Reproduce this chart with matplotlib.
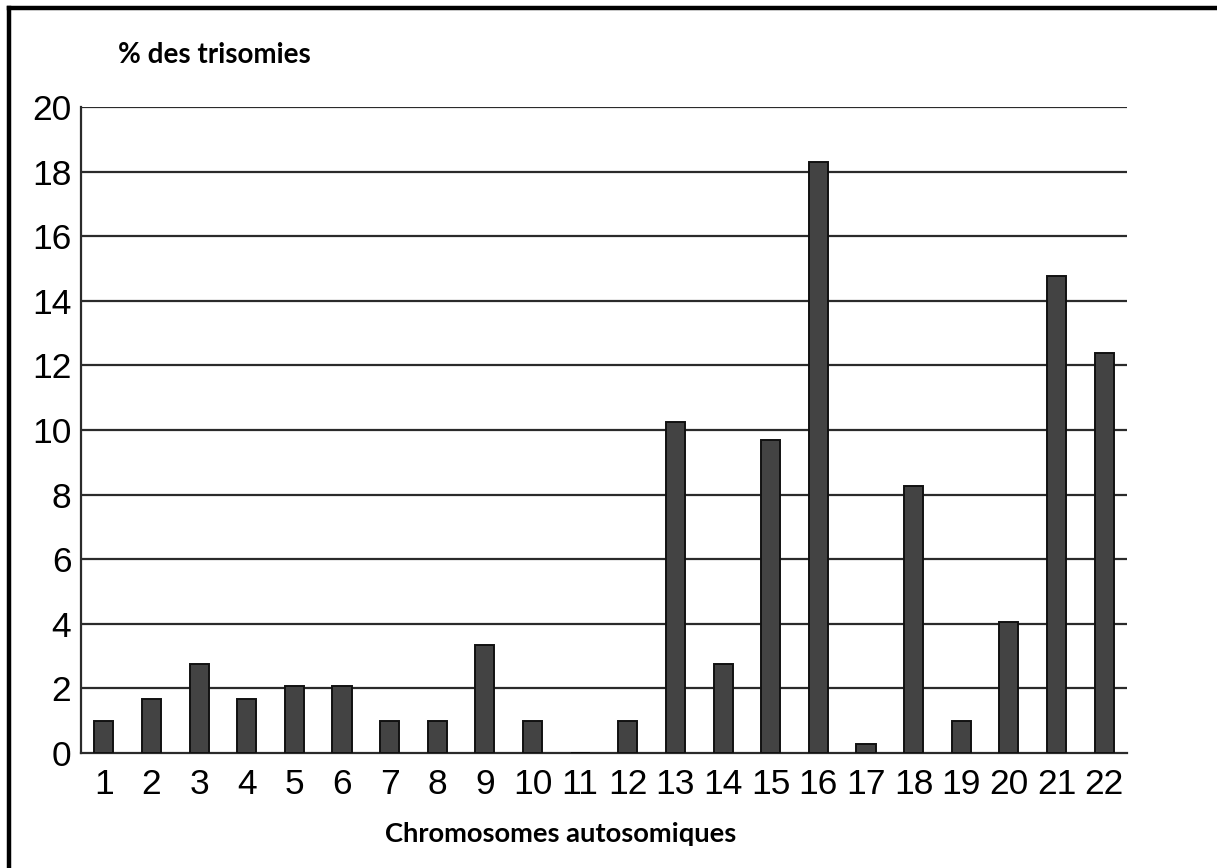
import matplotlib
matplotlib.use("Agg")
import matplotlib.pyplot as plt
from matplotlib.lines import Line2D

chromosomes = list(range(1, 23))
tick_labels = [str(c) for c in chromosomes]
percent = [1.0, 1.67, 2.75, 1.67, 2.07, 2.07, 1.0, 1.0, 3.35, 1.0, 0.0,
           1.0, 10.25, 2.75, 9.7, 18.3, 0.28, 8.28, 1.0, 4.05, 14.77, 12.38]

W, H = 1217, 868
fig = plt.figure(figsize=(W / 100, H / 100), dpi=100)
ax = fig.add_axes([81 / W, 1 - 753 / H, (1127 - 81) / W, (753 - 107) / H])

# grid lines first, bars over them
for y in range(2, 21, 2):
    ax.axhline(y, color="#2b2b2b", lw=1.6, zorder=1)

ax.bar(chromosomes, percent, width=0.4, color="#434343",
       edgecolor="#111111", linewidth=1.4, zorder=3)

ax.set_xlim(0.52, 22.48)
ax.set_ylim(0, 20)
ax.set_xticks(chromosomes)
ax.set_xticklabels(tick_labels)
ax.set_yticks(range(0, 21, 2))

for s in ["top", "right"]:
    ax.spines[s].set_visible(False)
for s in ["left", "bottom"]:
    ax.spines[s].set_color("#2b2b2b")
    ax.spines[s].set_linewidth(1.6)

ax.tick_params(length=0, labelsize=25.5, colors="black")
ax.tick_params(axis="x", pad=11)
ax.tick_params(axis="y", pad=7)
for lab in ax.get_xticklabels() + ax.get_yticklabels():
    lab.set_family("Liberation Sans")

fig.text(118 / W, 1 - 63 / H, "% des trisomies", fontsize=20, fontweight="bold",
         family="Lato", ha="left", va="baseline")
fig.text(561 / W, 1 - 842 / H, "Chromosomes autosomiques", fontsize=19.7,
         fontweight="bold", family="Lato", ha="center", va="baseline")

# frame of the picture (top and left edges only)
fig.add_artist(Line2D([9 / W, 9 / W], [0, 1 - 8 / H], color="black", lw=3.2))
fig.add_artist(Line2D([9 / W, 1], [1 - 8 / H, 1 - 8 / H], color="black", lw=3.2))

fig.savefig("out.png", dpi=100)
